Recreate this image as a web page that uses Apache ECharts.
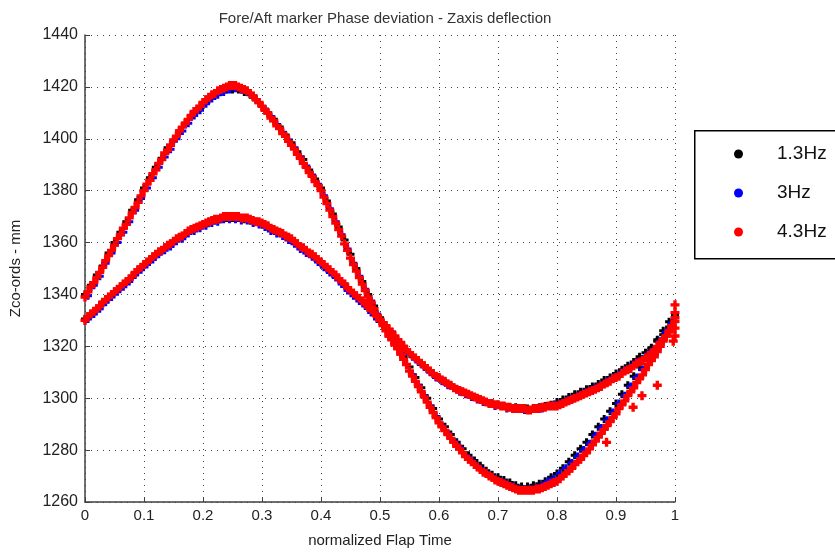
<!DOCTYPE html>
<html><head><meta charset="utf-8">
<script src="https://cdn.jsdelivr.net/npm/echarts@6/dist/echarts.min.js"></script>
<style>html,body{margin:0;padding:0;background:#fff}#c{width:835px;height:553px}</style>
</head><body><div id="c"></div>
<script>
const seriesNames = ['1.3Hz', '3Hz', '4.3Hz'];
const seriesColors = ['#000000', '#0000ff', '#ff0000'];
const xTicks = [0, 0.1, 0.2, 0.3, 0.4, 0.5, 0.6, 0.7, 0.8, 0.9, 1];
const yTicks = [1260, 1280, 1300, 1320, 1340, 1360, 1380, 1400, 1420, 1440];

const xBlack = [0,0.01,0.02,0.03,0.04,0.05,0.06,0.07,0.08,0.09,
0.10,0.11,0.12,0.13,0.14,0.15,0.16,0.17,0.18,0.19,
0.20,0.21,0.22,0.23,0.24,0.25,0.26,0.27,0.28,0.29,
0.30,0.31,0.32,0.33,0.34,0.35,0.36,0.37,0.38,0.39,
0.40,0.41,0.42,0.43,0.44,0.45,0.46,0.47,0.48,0.49,
0.50,0.51,0.52,0.53,0.54,0.55,0.56,0.57,0.58,0.59,
0.60,0.61,0.62,0.63,0.64,0.65,0.66,0.67,0.68,0.69,
0.70,0.71,0.72,0.73,0.74,0.75,0.76,0.77,0.78,0.79,
0.80,0.81,0.82,0.83,0.84,0.85,0.86,0.87,0.88,0.89,
0.90,0.91,0.92,0.93,0.94,0.95,0.96,0.97,0.98,0.99,1.00];
const blackUpper = [1340,1343.5,1347.5,1351,1356,1360,1364,1368,1372.5,1376.5,
1381,1385,1389,1392.5,1396.5,1399.5,1403,1406,1408.5,1411,
1413,1415,1416.5,1418,1419,1419,1419,1418,1417,1415,
1412.5,1410,1407.5,1404.5,1401.5,1398.5,1395,1392,1388,1384.5,
1381,1376,1371,1366,1361,1355.5,1350,1345,1340,1335.5,
1331,1327,1323.5,1320,1316,1312,1308,1304,1300,1296,
1292,1289,1286,1283,1280.5,1278,1276,1274,1272,1270.5,
1269.5,1268.5,1267.5,1266.5,1266,1266,1266.5,1267,1268,1269.5,
1271,1273,1275.5,1278,1280.5,1283,1286,1289,1292,1295,
1298,1301.5,1305,1308.5,1312,1315.5,1319,1322.5,1326,1329.5,1332];
const blackLower = [1330.5,1332.5,1334.5,1337,1339,1341,1343,1345,1347,1349.5,
1351.5,1353.5,1355.5,1357,1359,1360.5,1362,1363.5,1365,1366,
1367,1368,1368.5,1369,1369.5,1369.5,1369.5,1369,1368.5,1368,
1367,1366,1365,1364,1362.5,1361,1359.5,1358,1356,1354,
1352,1350,1348,1346,1344,1341.5,1339.5,1337.5,1335,1333,
1330.5,1328,1325.5,1322.5,1320,1317.5,1315.5,1313.5,1311.5,1309.5,
1308,1306.5,1305,1303.5,1302.5,1301.5,1300.5,1299.5,1298.5,1298,
1297.5,1297,1296.5,1296.5,1296,1296,1296,1296.5,1297,1297.5,
1298.5,1299.5,1300.5,1301.5,1302.5,1303.5,1304.5,1305.5,1307,1308,
1309.5,1311,1312.5,1314,1316,1317.5,1319.5,1322,1324.5,1327.5,1331];

const xBlue = [0.005,0.015,0.025,0.035,0.045,0.055,0.065,0.075,0.085,0.095,
0.105,0.115,0.125,0.135,0.145,0.155,0.165,0.175,0.185,0.195,
0.205,0.215,0.225,0.235,0.245,0.255,0.265,0.275,0.285,0.295,
0.305,0.315,0.325,0.335,0.345,0.355,0.365,0.375,0.385,0.395,
0.405,0.415,0.425,0.435,0.445,0.455,0.465,0.475,0.485,0.495,
0.505,0.515,0.525,0.535,0.545,0.555,0.565,0.575,0.585,0.595,
0.605,0.615,0.625,0.635,0.645,0.655,0.665,0.675,0.685,0.695,
0.705,0.715,0.725,0.735,0.745,0.755,0.765,0.775,0.785,0.795,
0.805,0.815,0.825,0.835,0.845,0.855,0.865,0.875,0.885,0.895,
0.905,0.915,0.925,0.935,0.945,0.955,0.965,0.975,0.985,0.995];
const blueUpper = [1339.5,1343.5,1347,1352,1356,1360,1364,1368,1372.5,1377,
1381,1385,1389,1393,1396,1400,1403,1406,1409,1411,
1413.5,1415.5,1417,1418,1419,1419.5,1419,1418,1416.5,1414,
1411.5,1408.5,1405.5,1402.5,1399.5,1396.5,1393,1389.5,1386,1382.5,
1378,1373,1368,1363,1357.5,1352,1347,1342,1337.5,1332.5,
1328,1324,1321,1317,1313,1309,1305,1301,1297,1293,
1289.5,1286.5,1283.5,1281,1278,1276,1274,1272,1270.5,1269,
1268,1267,1266,1265,1265,1265,1265.5,1266.5,1268,1269,
1271,1273,1275,1277.5,1280,1282.5,1285.5,1288.5,1291.5,1294.5,
1298,1301,1304.5,1308,1311,1314.5,1318,1321.5,1325.5,1329];
const blueLower = [1330.5,1332.5,1334.5,1337,1339,1341,1343,1345,1347.5,1349.5,
1351.5,1353.5,1355.5,1357,1358.5,1360.5,1361.5,1363.5,1364.5,1365.5,
1366.5,1367.5,1368,1369,1369,1369,1368.5,1368.5,1367.5,1367,
1366,1364.5,1363.5,1362.5,1361,1359.5,1357.5,1356,1354.5,1352.5,
1350.5,1348.5,1346.5,1344,1341.5,1339.5,1337.5,1335.5,1333,1330.5,
1328.5,1326,1323.5,1321,1318,1316,1314,1312,1310,1308,
1306.5,1305,1304,1302.5,1301.5,1300.5,1299.5,1298.5,1298,1297,
1297,1296,1296,1296,1295.5,1295.5,1296,1296,1297,1297.5,
1298,1299,1300,1301,1302,1303,1304,1305,1306.5,1308,
1309,1311,1312,1314,1315,1317,1319,1322,1324.5,1328];

const xRed = [0,0.005,0.01,0.015,0.02,0.025,0.03,0.035,0.04,0.045,
0.05,0.055,0.06,0.065,0.07,0.075,0.08,0.085,0.09,0.095,
0.10,0.105,0.11,0.115,0.12,0.125,0.13,0.135,0.14,0.145,
0.15,0.155,0.16,0.165,0.17,0.175,0.18,0.185,0.19,0.195,
0.20,0.205,0.21,0.215,0.22,0.225,0.23,0.235,0.24,0.245,
0.25,0.255,0.26,0.265,0.27,0.275,0.28,0.285,0.29,0.295,
0.30,0.305,0.31,0.315,0.32,0.325,0.33,0.335,0.34,0.345,
0.35,0.355,0.36,0.365,0.37,0.375,0.38,0.385,0.39,0.395,
0.40,0.405,0.41,0.415,0.42,0.425,0.43,0.435,0.44,0.445,
0.45,0.455,0.46,0.465,0.47,0.475,0.48,0.485,0.49,0.495,
0.50,0.505,0.51,0.515,0.52,0.525,0.53,0.535,0.54,0.545,
0.55,0.555,0.56,0.565,0.57,0.575,0.58,0.585,0.59,0.595,
0.60,0.605,0.61,0.615,0.62,0.625,0.63,0.635,0.64,0.645,
0.65,0.655,0.66,0.665,0.67,0.675,0.68,0.685,0.69,0.695,
0.70,0.705,0.71,0.715,0.72,0.725,0.73,0.735,0.74,0.745,
0.75,0.755,0.76,0.765,0.77,0.775,0.78,0.785,0.79,0.795,
0.80,0.805,0.81,0.815,0.82,0.825,0.83,0.835,0.84,0.845,
0.85,0.855,0.86,0.865,0.87,0.875,0.88,0.885,0.89,0.895,
0.90,0.905,0.91,0.915,0.92,0.925,0.93,0.935,0.94,0.945,
0.95,0.955,0.96,0.965,0.97,0.975,0.98,0.985,0.99,0.995,1.00];
const redUpper = [1339,1341,1343,1344.5,1346.5,1348.5,1350.5,1353,1355,1357,
1359,1361.5,1363,1365.5,1367,1369.5,1371.5,1373.5,1375.5,1378,
1380,1382.5,1384,1386.5,1388,1390.5,1392,1394.5,1395.5,1397.5,
1399.5,1401,1403,1404.5,1406,1407.5,1409,1410.5,1411.5,1412.5,
1414,1415,1416,1417,1417.5,1418.5,1419,1419.5,1420,1420.5,
1420.5,1420.5,1420,1419.5,1419,1418.5,1417.5,1416.5,1415,1414,
1412.5,1411,1410,1408,1407,1405,1404,1402,1401,1399,
1397.5,1396,1394,1392.5,1390.5,1389,1387,1385.5,1383.5,1382,
1380,1377.5,1375,1372.5,1370,1367.5,1365,1362.5,1359.5,1357,
1354,1351.5,1349,1346.5,1344,1341.5,1339,1337,1334.5,1332,
1330,1328,1326,1324,1322.5,1320.5,1319,1317,1315,1313,
1310.5,1308.5,1306.5,1304.5,1302.5,1300.5,1298.5,1296.5,1294.5,1292.5,
1290.5,1289,1287.5,1286,1284.5,1283,1281.5,1280.5,1279,1277.5,
1276.5,1275.5,1274.5,1273.5,1272.5,1271.5,1271,1270,1269.5,1268.5,
1268,1267.5,1267,1266.5,1266,1265.5,1265,1264.5,1264.5,1264.5,
1264.5,1264.5,1264.5,1265,1265,1265.5,1266,1266.5,1267,1267.5,
1268,1269,1270,1271,1272,1273,1274.5,1275.5,1276.5,1278,
1279,1280.5,1282,1283.5,1285,1286.5,1288,1289.5,1291,1292.5,
1294,1296,1297.5,1299,1301,1302.5,1304,1306,1307.5,1309,
1311,1313,1314.5,1316,1318,1320,1322,1324,1326,1328,1331];
const redLower = [1330,1331.5,1332.5,1333.5,1334.5,1335.5,1337,1338,1339,1340,
1341,1342,1343,1344,1345,1346,1347,1348.5,1349.5,1350.5,
1351.5,1352.5,1353.5,1354.5,1355.5,1356.5,1357,1358,1359,1359.5,
1360.5,1361.5,1362,1362.5,1363.5,1364.5,1365,1365.5,1366,1366.5,
1367,1367.5,1368,1368.5,1369,1369,1369.5,1370,1370,1370,
1370,1370,1370,1369.5,1369.5,1369.5,1369,1368.5,1368,1368,
1367.5,1367,1366.5,1365.5,1365,1364.5,1364,1363.5,1362.5,1362,
1361.5,1360.5,1359.5,1358.5,1358,1357,1356,1355.5,1354.5,1353.5,
1352.5,1351.5,1350.5,1349.5,1348.5,1347.5,1346,1345,1344,1342.5,
1341.5,1340.5,1339.5,1338.5,1337.5,1336.5,1335,1334,1333,1331.5,
1330.5,1329,1328,1326.5,1325.5,1324,1322.5,1321.5,1320,1318.5,
1317.5,1316.5,1315.5,1314.5,1313.5,1312.5,1311.5,1310.5,1309.5,1308.5,
1308,1307,1306.5,1305.5,1305,1304,1303.5,1303,1302.5,1302,
1301.5,1301,1300.5,1300,1299.5,1299,1298.5,1298,1298,1297.5,
1297.5,1297,1297,1296.5,1296.5,1296,1296,1296,1296,1296,
1295.5,1295.5,1296,1296,1296,1296.5,1296.5,1297,1297,1297,
1297,1297.5,1298,1298.5,1299,1299.5,1300,1300.5,1301,1301.5,
1302,1302.5,1303,1303.5,1304,1304.5,1305.5,1306,1306.5,1307.5,
1308,1308.5,1309.5,1310.5,1311,1311.5,1312.5,1313.5,1314,1314.5,
1315.5,1316.5,1317.5,1318.5,1320,1321.5,1322.5,1324,1325.5,1327.5,1329.5];
const redExtraX = [0.884, 0.929, 0.944, 0.97, 0.997, 1.0, 1.0, 1.0, 1.0];
const redExtraY = [1283, 1296.5, 1301, 1305, 1322, 1324, 1327, 1333, 1336];

function pairs(xs, ys) { return xs.map((x, i) => [x, ys[i]]); }

const FONT = "'Liberation Sans', Arial, sans-serif";
const plusPath = 'path://M2.5,0h3v2.5h2.5v3h-2.5v2.5h-3v-2.5h-2.5v-3h2.5z';

const seriesData = [
  pairs(xBlack, blackUpper).concat(pairs(xBlack, blackLower)),
  pairs(xBlue, blueUpper).concat(pairs(xBlue, blueLower)),
  pairs(xRed, redUpper).concat(pairs(xRed, redLower)).concat(pairs(redExtraX, redExtraY))
];
const symbolSizes = [8, 8, 9];

const chart = echarts.init(document.getElementById('c'), null, { renderer: 'canvas' });
chart.setOption({
  animation: false,
  backgroundColor: '#ffffff',
  title: {
    text: 'Fore/Aft marker Phase deviation - Zaxis deflection',
    left: 380, top: 6, textAlign: 'center',
    textStyle: { fontFamily: FONT, fontSize: 15, fontWeight: 'normal', color: '#333333' }
  },
  grid: { left: 85, right: 160, top: 35, bottom: 51 },
  graphic: [{
    type: 'rect', left: 694, top: 130, z: 1,
    shape: { width: 200, height: 128 },
    style: { fill: '#ffffff', stroke: '#000000', lineWidth: 1.5 }
  }],
  legend: {
    orient: 'vertical', left: 694, top: 130, z: 10,
    padding: [14, 10, 16, 40],
    borderWidth: 0,
    itemWidth: 9, itemHeight: 10, itemGap: 19,
    textStyle: { fontFamily: FONT, fontSize: 19, color: '#111111', lineHeight: 20, padding: [0, 0, 0, 29] },
    data: seriesNames.map(n => ({ name: n, icon: 'circle' }))
  },
  xAxis: {
    type: 'value', min: xTicks[0], max: xTicks[xTicks.length - 1], interval: 0.1,
    name: 'normalized Flap Time', nameLocation: 'middle', nameGap: 31,
    nameTextStyle: { fontFamily: FONT, fontSize: 15, color: '#222222' },
    axisLine: { show: true, onZero: false, lineStyle: { color: '#404040', width: 1.5 } },
    axisTick: { show: true, inside: true, length: 5, lineStyle: { color: '#404040' } },
    axisLabel: { fontFamily: FONT, fontSize: 15, color: '#222222', margin: 6, showMaxLabel: true, showMinLabel: true,
      formatter: v => String(v) },
    splitLine: { show: true, lineStyle: { color: '#444444', type: [1, 5], width: 1 } }
  },
  yAxis: {
    type: 'value', min: yTicks[0], max: yTicks[yTicks.length - 1], interval: 20,
    name: 'Zco-ords - mm', nameLocation: 'middle', nameGap: 62, nameRotate: 90,
    nameTextStyle: { fontFamily: FONT, fontSize: 15, color: '#222222' },
    axisLine: { show: true, lineStyle: { color: '#404040', width: 1.5 } },
    axisTick: { show: true, inside: true, length: 5, lineStyle: { color: '#404040' } },
    axisLabel: { fontFamily: FONT, fontSize: 16, color: '#222222', margin: 7, formatter: v => String(v) },
    splitLine: { show: true, lineStyle: { color: '#444444', type: [1, 5], width: 1 } }
  },
  series: seriesNames.map((n, i) => ({
    name: n, type: 'scatter', symbol: plusPath, symbolSize: symbolSizes[i],
    itemStyle: { color: seriesColors[i], opacity: 1 },
    data: seriesData[i]
  }))
});
</script></body></html>
